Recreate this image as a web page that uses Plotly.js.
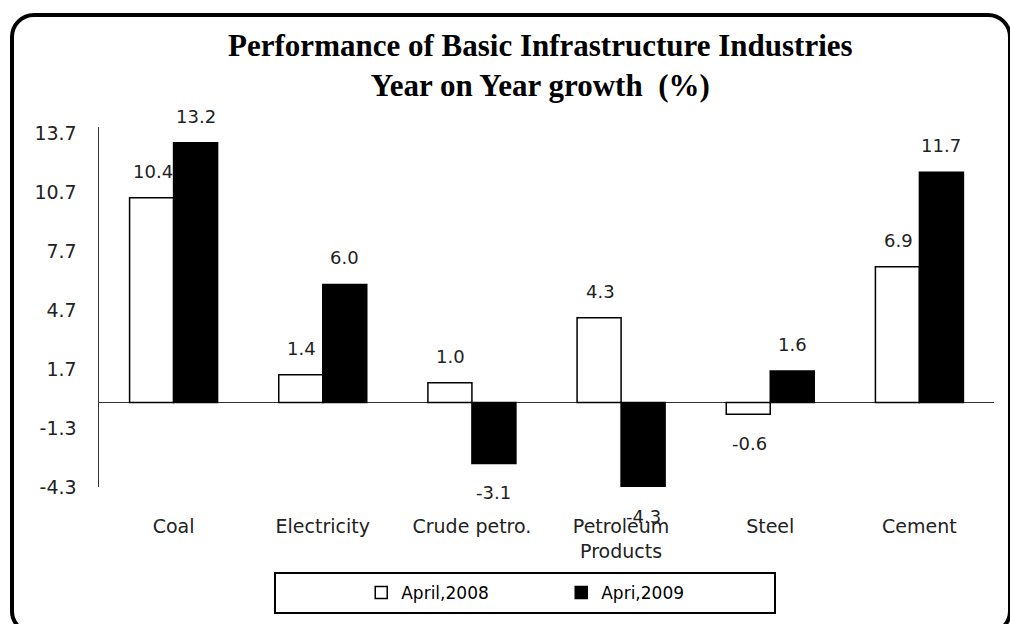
<!DOCTYPE html>
<html>
<head>
<meta charset="utf-8">
<script src="https://cdn.plot.ly/plotly-3.0.1.min.js"></script>
<style>
  html, body { margin: 0; padding: 0; background: #fff; overflow: hidden; }
  #wrap { position: relative; width: 1010px; height: 624px; }
  #chart { width: 1010px; height: 624px; }
  #frame { position: absolute; left: 10px; top: 13px; width: 1002px; height: 622px;
           border: 4px solid #000; border-radius: 24px; box-sizing: border-box; pointer-events: none; }
</style>
</head>
<body>
<div id="wrap">
  <div id="chart"></div>
  <div id="frame"></div>
</div>
<script>
const categories = ["Coal", "Electricity", "Crude petro.", "Petroleum<br>Products", "Steel", "Cement"];
const april2008 = [10.4, 1.4, 1.0, 4.3, -0.6, 6.9];
const april2009 = [13.2, 6.0, -3.1, -4.3, 1.6, 11.7];
const seriesNames = ["April,2008", "Apri,2009"];
const yTickVals = [-4.3, -1.3, 1.7, 4.7, 7.7, 10.7, 13.7];
const yTickText = ["-4.3", "-1.3", "1.7", "4.7", "7.7", "10.7", "13.7"];

const labelFont = { family: "DejaVu Sans", size: 18, color: "#222" };

const traces = [
  { type: "bar", name: seriesNames[0], x: categories, y: april2008,
    marker: { color: "#ffffff", line: { color: "#000", width: 1.5 } }, hoverinfo: "none" },
  { type: "bar", name: seriesNames[1], x: categories, y: april2009,
    marker: { color: "#000000", line: { color: "#000", width: 1.5 } }, hoverinfo: "none" }
];

const annotations = [];
[april2008, april2009].forEach((vals, si) => {
  vals.forEach((v, i) => {
    annotations.push({
      x: categories[i], y: v, xref: "x", yref: "y",
      text: v.toFixed(1), showarrow: false,
      xshift: si === 0 ? -21 : 22,
      yanchor: v >= 0 ? "bottom" : "top",
      yshift: v >= 0 ? 14 : -17,
      font: labelFont
    });
  });
});

const layout = {
  width: 1010, height: 624,
  margin: { l: 99, r: 16, t: 127, b: 137 },
  paper_bgcolor: "#fff", plot_bgcolor: "#fff",
  title: {
    text: "Performance of Basic Infrastructure Industries<br>Year on Year growth  (%)",
    font: { family: "Liberation Serif", size: 31, color: "#000", weight: "bold" },
    x: 0.535, xref: "container", xanchor: "center",
    y: 0.91, yref: "container", yanchor: "top"
  },
  barmode: "group", bargap: 0.41, bargroupgap: 0,
  xaxis: {
    showline: false, showgrid: false, ticks: "", zeroline: false,
    tickfont: { family: "DejaVu Sans", size: 19, color: "#222" },
    ticklabelstandoff: 26, fixedrange: true
  },
  yaxis: {
    range: [-4.3, 14.0], tickvals: yTickVals, ticktext: yTickText,
    showline: true, linecolor: "#333", linewidth: 1.5,
    showgrid: false, ticks: "",
    zeroline: true, zerolinecolor: "#333", zerolinewidth: 1.5,
    tickfont: { family: "DejaVu Sans", size: 19, color: "#222" },
    ticklabelstandoff: 17, fixedrange: true
  },
  showlegend: true,
  legend: {
    orientation: "h", x: 0.293, xanchor: "left", y: -0.294, yanchor: "middle",
    font: { family: "DejaVu Sans", size: 17, color: "#000" },
    bgcolor: "rgba(0,0,0,0)", borderwidth: 0, entrywidth: 155, itemclick: false
  },
  shapes: [{
    type: "rect", xref: "paper", yref: "paper",
    x0: (275 - 99) / 895, x1: (775 - 99) / 895,
    y0: -(613 - 487) / 360, y1: -(573 - 487) / 360,
    line: { color: "#000", width: 2 }, fillcolor: "rgba(0,0,0,0)"
  }],
  annotations: annotations
};

Plotly.newPlot("chart", traces, layout, { displayModeBar: false, staticPlot: true });
</script>
</body>
</html>
